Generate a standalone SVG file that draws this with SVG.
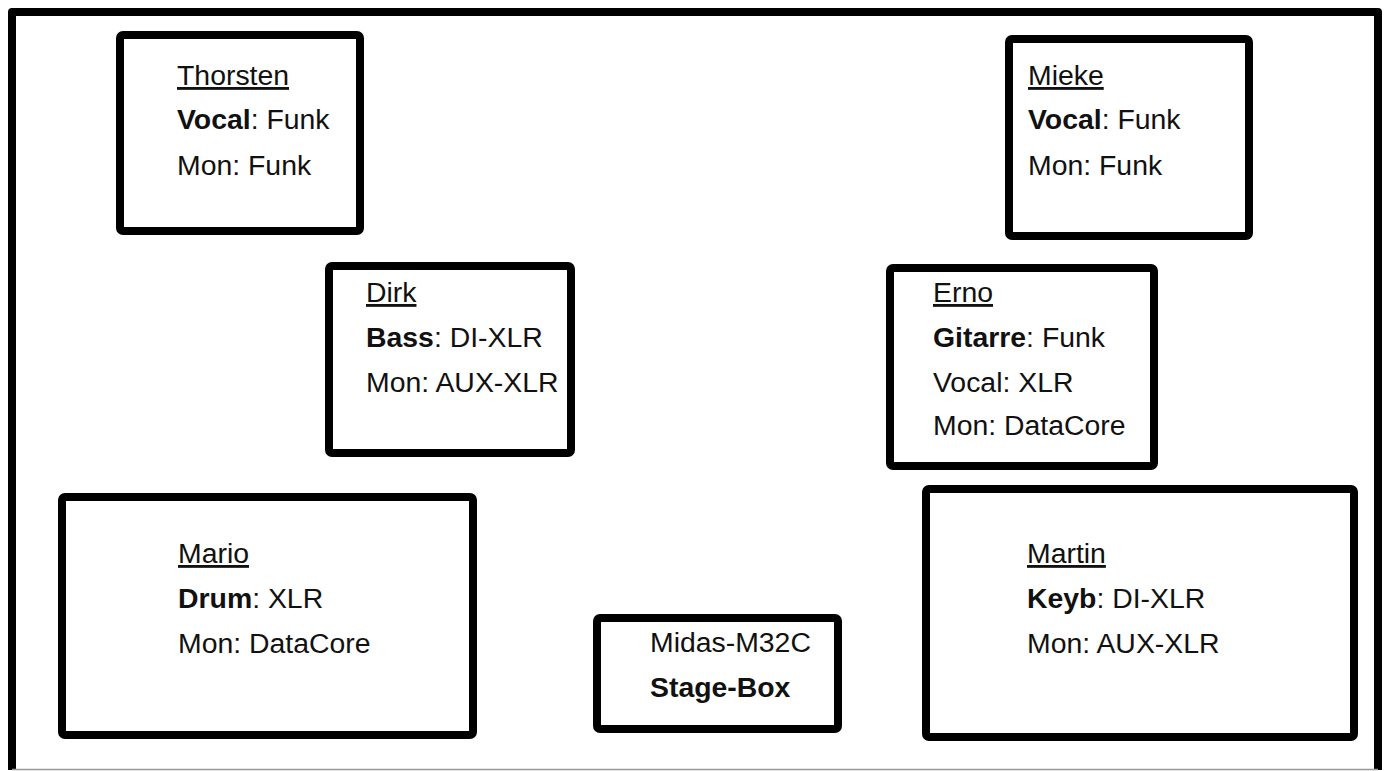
<svg xmlns="http://www.w3.org/2000/svg" width="1384" height="771" viewBox="0 0 1384 771">
<style>
.box{fill:#fff;stroke:#000;stroke-width:8;stroke-linejoin:round}
text{font-family:"Liberation Sans",Arial,sans-serif;font-size:28.4px;fill:#111}
.b{font-weight:bold}
.u{text-decoration:underline}
</style>
<rect x="0" y="0" width="1384" height="771" fill="#fff"/>
<g id="frame">
<path d="M12,770 V12 H1378 V770" fill="none" stroke="#000" stroke-width="8" stroke-linejoin="round"/>
<line x1="12" y1="769.5" x2="1378" y2="769.5" stroke="#999" stroke-width="1.5"/>
</g>
<g id="connectors"></g>
<g id="thorsten">
<rect class="box" x="120" y="35" width="240" height="196" rx="3"/>
<text x="177" y="85" class="u">Thorsten</text>
<text x="177" y="129"><tspan class="b">Vocal</tspan>: Funk</text>
<text x="177" y="175">Mon: Funk</text>
</g>
<g id="mieke">
<rect class="box" x="1009" y="39" width="240" height="197" rx="3"/>
<text x="1028" y="85" class="u">Mieke</text>
<text x="1028" y="129"><tspan class="b">Vocal</tspan>: Funk</text>
<text x="1028" y="175">Mon: Funk</text>
</g>
<g id="dirk">
<rect class="box" x="329" y="266" width="242" height="187" rx="3"/>
<text x="366" y="302" class="u">Dirk</text>
<text x="366" y="347"><tspan class="b">Bass</tspan>: DI-XLR</text>
<text x="366" y="392">Mon: AUX-XLR</text>
</g>
<g id="erno">
<rect class="box" x="890" y="268" width="264" height="198" rx="3"/>
<text x="933" y="302" class="u">Erno</text>
<text x="933" y="347"><tspan class="b">Gitarre</tspan>: Funk</text>
<text x="933" y="392">Vocal: XLR</text>
<text x="933" y="435">Mon: DataCore</text>
</g>
<g id="mario">
<rect class="box" x="62" y="497" width="411" height="238" rx="3"/>
<text x="178" y="563" class="u">Mario</text>
<text x="178" y="608"><tspan class="b">Drum</tspan>: XLR</text>
<text x="178" y="653">Mon: DataCore</text>
</g>
<g id="midas">
<rect class="box" x="597" y="618" width="241" height="111" rx="3"/>
<text x="650" y="652">Midas-M32C</text>
<text x="650" y="697" class="b">Stage-Box</text>
</g>
<g id="martin">
<rect class="box" x="926" y="489" width="428" height="248" rx="3"/>
<text x="1027" y="563" class="u">Martin</text>
<text x="1027" y="608"><tspan class="b">Keyb</tspan>: DI-XLR</text>
<text x="1027" y="653">Mon: AUX-XLR</text>
</g>
</svg>
